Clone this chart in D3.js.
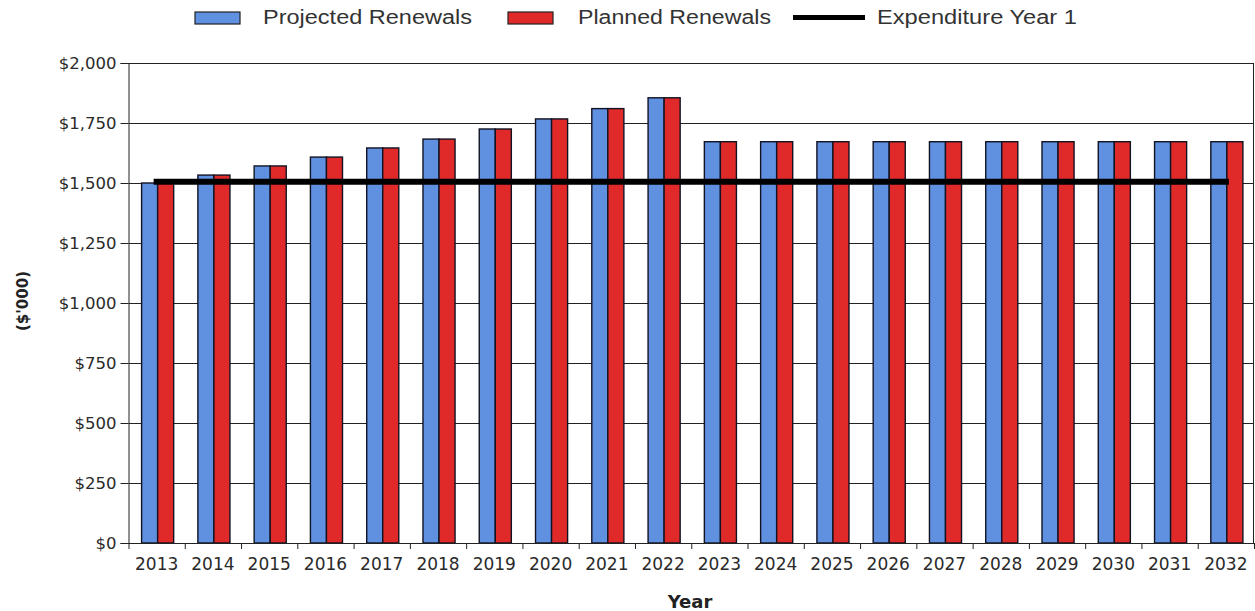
<!DOCTYPE html>
<html>
<head>
<meta charset="utf-8">
<script src="https://cdn.jsdelivr.net/npm/d3@7"></script>
<style>
  html, body { margin: 0; padding: 0; background: #fff; }
  svg { display: block; }
</style>
</head>
<body>
<svg id="chart" width="1255" height="611"></svg>
<script>
// Renewal expenditure by year ($'000)
const years = ["2013","2014","2015","2016","2017","2018","2019","2020","2021","2022",
               "2023","2024","2025","2026","2027","2028","2029","2030","2031","2032"];
const projectedRenewals = [1500, 1533, 1571, 1608, 1646, 1683, 1725, 1767, 1810, 1855,
                           1672, 1672, 1672, 1672, 1672, 1672, 1672, 1672, 1672, 1672];
const plannedRenewals   = [1500, 1533, 1571, 1608, 1646, 1683, 1725, 1767, 1810, 1855,
                           1672, 1672, 1672, 1672, 1672, 1672, 1672, 1672, 1672, 1672];
const expenditureYear1 = 1505;
const yTicks = [0, 250, 500, 750, 1000, 1250, 1500, 1750, 2000];
const seriesNames = ["Projected Renewals", "Planned Renewals", "Expenditure Year 1"];

const colors = { projected: "#6090e0", planned: "#e02a2a", line: "#000" };

const svg = d3.select("#chart");
const margin = { top: 63, right: 1, bottom: 68, left: 128.5 };
const W = 1255, H = 611;
const plotW = W - margin.left - margin.right;
const plotH = H - margin.top - margin.bottom;

const g = svg.append("g").attr("transform", `translate(${margin.left},${margin.top})`);

const x = d3.scaleBand().domain(years).range([0, plotW]).padding(0);
const y = d3.scaleLinear().domain([0, 2000]).range([plotH, 0]);

const fmt = v => "$" + d3.format(",")(v);

// horizontal gridlines
g.append("g")
  .selectAll("line")
  .data(yTicks)
  .join("line")
  .attr("x1", 0).attr("x2", plotW)
  .attr("y1", d => Math.round(y(d)) + 0.5).attr("y2", d => Math.round(y(d)) + 0.5)
  .attr("stroke", "#222").attr("stroke-width", 1);

// right border of the plot
g.append("line")
  .attr("x1", plotW - 0.5).attr("x2", plotW - 0.5)
  .attr("y1", y(2000)).attr("y2", y(0))
  .attr("stroke", "#222");

// bars
const groupW = x.bandwidth() * 0.57;
const barW = groupW / 2;
const groupOffset = (x.bandwidth() - groupW) / 2 + 1;

const bars = g.append("g");
years.forEach((yr, i) => {
  const x0 = x(yr) + groupOffset;
  bars.append("rect")
    .attr("x", x0).attr("y", y(projectedRenewals[i]))
    .attr("width", barW).attr("height", y(0) - y(projectedRenewals[i]))
    .attr("fill", colors.projected).attr("stroke", "#111322").attr("stroke-width", 1.4);
  bars.append("rect")
    .attr("x", x0 + barW).attr("y", y(plannedRenewals[i]))
    .attr("width", barW).attr("height", y(0) - y(plannedRenewals[i]))
    .attr("fill", colors.planned).attr("stroke", "#111322").attr("stroke-width", 1.4);
});

// expenditure year 1 reference line
g.append("line")
  .attr("x1", x(years[0]) + x.bandwidth() / 2)
  .attr("x2", x(years[years.length - 1]) + x.bandwidth() / 2)
  .attr("y1", y(expenditureYear1)).attr("y2", y(expenditureYear1))
  .attr("stroke", colors.line).attr("stroke-width", 6)
  .attr("stroke-linecap", "square");

// y axis
const yAxis = g.append("g")
  .call(d3.axisLeft(y).tickValues(yTicks).tickFormat(fmt).tickSize(8).tickPadding(4));
yAxis.select(".domain").attr("stroke", "#222");
yAxis.selectAll(".tick line").attr("stroke", "#222");
yAxis.selectAll("text")
  .attr("font-family", "'DejaVu Sans', Verdana, sans-serif")
  .attr("font-size", 16.5).attr("fill", "#2a2a2a");

// x axis with ticks at band boundaries
const xAxis = g.append("g").attr("transform", `translate(0,${plotH})`)
  .call(d3.axisBottom(x).tickSize(0).tickPadding(15));
xAxis.select(".domain").attr("stroke", "#222");
xAxis.selectAll("text")
  .attr("font-family", "'DejaVu Sans', Verdana, sans-serif")
  .attr("font-size", 17).attr("fill", "#2a2a2a");
xAxis.selectAll(".boundary")
  .data(years.concat(["end"]))
  .join("line")
  .attr("class", "boundary")
  .attr("x1", (d, i) => i * x.step() + 0.5).attr("x2", (d, i) => i * x.step() + 0.5)
  .attr("y1", 0).attr("y2", 6)
  .attr("stroke", "#222");

// axis titles
svg.append("text")
  .attr("transform", "translate(28,301) rotate(-90)")
  .attr("text-anchor", "middle")
  .attr("font-family", "'DejaVu Sans', Verdana, sans-serif")
  .attr("font-size", 15).attr("font-weight", "bold").attr("fill", "#222")
  .text("($'000)");

svg.append("text")
  .attr("x", 690).attr("y", 608)
  .attr("text-anchor", "middle")
  .attr("font-family", "'DejaVu Sans', Verdana, sans-serif")
  .attr("font-size", 18).attr("font-weight", "bold").attr("fill", "#222")
  .text("Year");

// legend
const legend = svg.append("g");
const legendItems = [
  { name: seriesNames[0], type: "rect", color: colors.projected, sx: 195, tx: 263, tw: 209 },
  { name: seriesNames[1], type: "rect", color: colors.planned,   sx: 508, tx: 578, tw: 193 },
  { name: seriesNames[2], type: "line", color: colors.line,      sx: 793, tx: 877, tw: 200 }
];
legendItems.forEach(it => {
  if (it.type === "rect") {
    legend.append("rect")
      .attr("x", it.sx).attr("y", 12).attr("width", 45).attr("height", 12)
      .attr("fill", it.color).attr("stroke", "#222").attr("stroke-width", 1.2);
  } else {
    legend.append("line")
      .attr("x1", it.sx).attr("x2", it.sx + 72).attr("y1", 17.5).attr("y2", 17.5)
      .attr("stroke", it.color).attr("stroke-width", 5);
  }
  legend.append("text")
    .attr("x", it.tx).attr("y", 24)
    .attr("font-family", "Arial, 'Liberation Sans', sans-serif")
    .attr("font-size", 20).attr("fill", "#333")
    .attr("textLength", it.tw).attr("lengthAdjust", "spacingAndGlyphs")
    .text(it.name);
});
</script>
</body>
</html>
